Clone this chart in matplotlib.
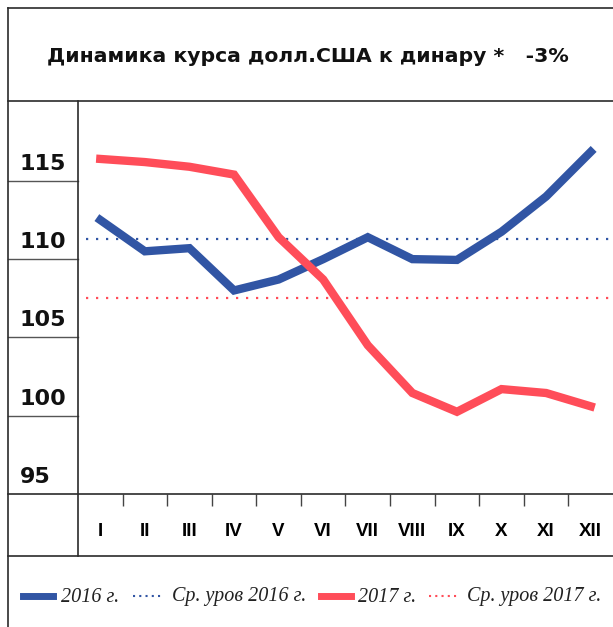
import matplotlib
matplotlib.use("Agg")
import matplotlib.pyplot as plt
from matplotlib.lines import Line2D
from matplotlib.transforms import blended_transform_factory

# --- Data ---
months = ['I', 'II', 'III', 'IV', 'V', 'VI', 'VII', 'VIII', 'IX', 'X', 'XI', 'XII']
usd_2016 = [112.5, 110.5, 110.7, 108.0, 108.7, 110.0, 111.4, 110.0, 109.95, 111.75, 114.0, 116.85]
usd_2017 = [116.4, 116.2, 115.9, 115.4, 111.4, 108.7, 104.5, 101.45, 100.25, 101.7, 101.45, 100.6]
avg_2016 = 111.3
avg_2017 = 107.5
y_ticks = [115, 110, 105, 100, 95]
title = 'Динамика курса долл.США к динару *   -3%'
legend_labels = ['2016 г.', 'Ср. уров 2016 г.', '2017 г.', 'Ср. уров 2017 г.']

BLUE = '#3155A4'
RED = '#FF4D59'
FRAME = '#2b2b2b'

W, H = 613, 627
fig = plt.figure(figsize=(W / 100, H / 100), dpi=100)


def fx(px):
    return px / W


def fy(py):
    return 1 - py / H


def fline(x0, y0, x1, y1, color=FRAME, lw=1.2):
    fig.add_artist(Line2D([fx(x0), fx(x1)], [fy(y0), fy(y1)], color=color, lw=lw,
                          transform=fig.transFigure))


# --- Plot area ---
ax = fig.add_axes([fx(78), fy(494), fx(613) - fx(78), fy(101) - fy(494)])
x = list(range(1, len(months) + 1))

ax.axhline(avg_2016, xmin=0.015, xmax=1, color=BLUE, lw=1.6, ls=(0, (1, 3.5)))
ax.axhline(avg_2017, xmin=0.015, xmax=1, color=RED, lw=1.6, ls=(0, (1, 3.5)))
ax.plot(x, usd_2016, color=BLUE, lw=6, solid_joinstyle='miter')
ax.plot(x, usd_2017, color=RED, lw=6, solid_joinstyle='miter')

ax.set_xlim(0.5, 12.5)
ax.set_ylim(95, 120.1)
for s in ax.spines.values():
    s.set_visible(False)
ax.set_yticks([])
ax.set_xticks(x)
ax.set_xticklabels(months, fontfamily='Liberation Sans', fontweight='bold', fontsize=13.5)
ax.tick_params(axis='x', which='major', length=0, pad=21)
ax.set_xticks([i + 0.5 for i in x[:-1]], minor=True)
ax.tick_params(axis='x', which='minor', length=8.5, width=1.0, color='#444444', direction='out')

# --- Frame / table lines ---
fline(8, 8, 8, 627)
fline(8, 8, 613, 8)
fline(8, 101, 613, 101)
fline(78, 101, 78, 556)
fline(8, 494, 613, 494)
fline(8, 556, 613, 556)

# left column: value rows
tr = blended_transform_factory(fig.transFigure, ax.transData)
for v in y_ticks:
    if v != 95:
        ax.add_line(Line2D([fx(8), fx(78)], [v, v], color='#555555', lw=1.0,
                           transform=tr, clip_on=False))
    ax.text(fx(20), v + 0.7, str(v), transform=tr, ha='left', va='baseline',
            fontfamily='DejaVu Sans', fontweight='bold', fontsize=16, color='#111111')

# --- Title ---
fig.text(fx(47), fy(56), title, ha='left', va='center',
         fontfamily='DejaVu Sans', fontweight='bold', fontsize=14.7, color='#111111')

# --- Legend (drawn by hand to follow the reference layout) ---
ly = 595.5
fline(23, ly, 53, ly, color=BLUE, lw=5)
fig.add_artist(Line2D([fx(133), fx(164)], [fy(ly), fy(ly)], color=BLUE, lw=1.5,
                      ls=(0, (1, 2)), transform=fig.transFigure))
fline(321, ly, 351, ly, color=RED, lw=5)
fig.add_artist(Line2D([fx(429), fx(459)], [fy(ly), fy(ly)], color=RED, lw=1.5,
                      ls=(0, (1, 2)), transform=fig.transFigure))
for lx, lab in zip([61, 172, 358, 467], legend_labels):
    fig.text(fx(lx), fy(597), lab, ha='left', va='center', fontfamily='Liberation Serif',
             fontstyle='italic', fontsize=14.5, color='#222222')

fig.savefig('out.png', dpi=100)
